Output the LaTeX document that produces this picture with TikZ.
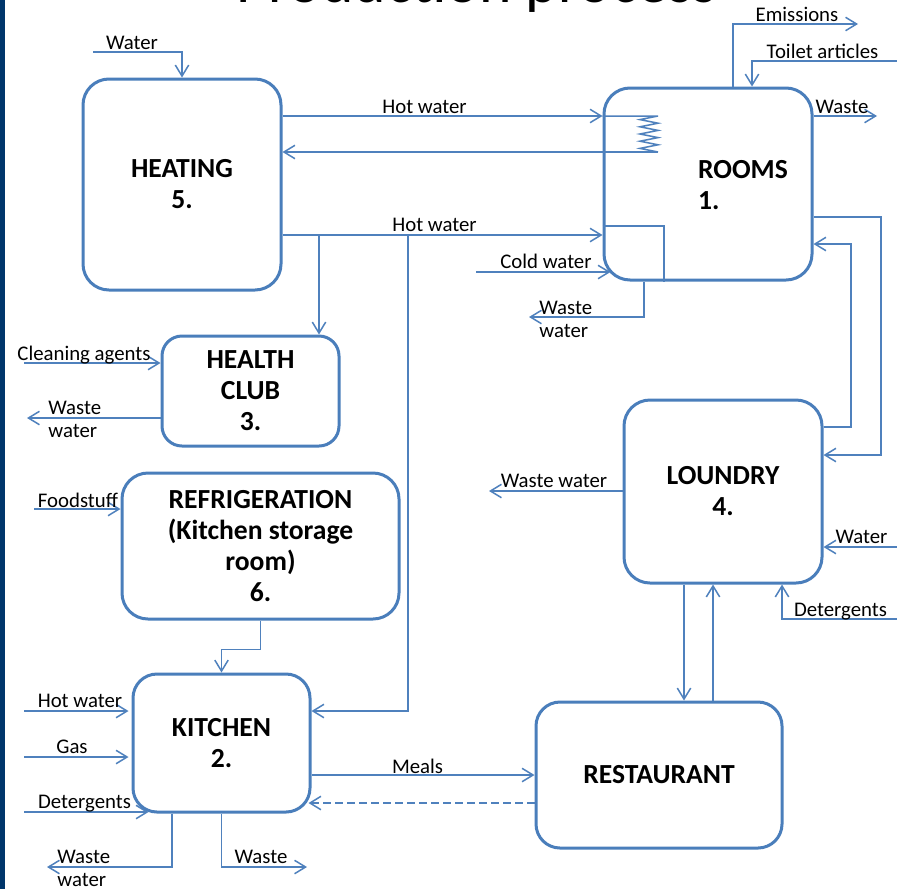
\documentclass[tikz,border=0pt]{standalone}
\usepackage{fontspec}
\setmainfont{Carlito}
\usetikzlibrary{arrows.meta}
\definecolor{boxblue}{RGB}{74,126,187}
\definecolor{lineblue}{RGB}{79,129,189}
\definecolor{slidenavy}{RGB}{0,54,107}
\newcommand\lblfont{\fontsize{10.4}{11.3}\selectfont}
\newcommand\boxfont{\fontsize{13.8}{15.5}\selectfont\bfseries}

\begin{document}
\begin{tikzpicture}[x=0.5pt, y=-0.5pt, >={Straight Barb[length=5.5pt,width=6.7pt]},
    procbox/.style={draw=boxblue, line width=1.5pt, rounded corners=13pt, align=center, font=\boxfont, inner sep=0pt},
    flow/.style={draw=lineblue, line width=0.75pt},
    lbl/.style={font=\lblfont, inner sep=0pt, anchor=base},
    lbltwo/.style={font=\lblfont, inner sep=0pt, align=left, anchor=base west}]
    \useasboundingbox (0,0) rectangle (897,889);
    \clip (0,0) rectangle (897,889);
    \fill[white] (0,0) rectangle (897,889);
    \fill[slidenavy] (0,0) rectangle (5,889);
    \node[font=\fontsize{30.9}{36}\selectfont, anchor=base, inner sep=0pt] (title) at (476.5,2) {Production process};

    % the six units
    \node[procbox, minimum width=99pt, minimum height=105.5pt] (heat) at (182,184.5) {HEATING\\5.};
    \node[procbox, minimum width=104pt, minimum height=96pt] (rooms) at (708,184) {};
    \node[font=\boxfont, align=left, inner sep=0pt] (roomsT) at (743,185) {ROOMS\\1.};
    \node[procbox, rounded corners=10pt, minimum width=88.5pt, minimum height=55pt] (health) at (250.5,391) {HEALTH\\CLUB\\3.};
    \node[procbox, minimum width=138.5pt, minimum height=73pt] (fridge) at (260.5,546) {REFRIGERATION\\(Kitchen storage\\room)\\6.};
    \node[procbox, minimum width=99pt, minimum height=91.5pt] (laundry) at (723,491.5) {LOUNDRY\\4.};
    \node[procbox, rounded corners=12pt, minimum width=88.5pt, minimum height=69pt] (kitchen) at (221.5,743) {KITCHEN\\2.};
    \node[procbox, rounded corners=12pt, minimum width=123pt, minimum height=73pt] (rest) at (659,775) {RESTAURANT};

    % heating
    \coordinate (wIn) at (93,52);
    \draw[flow,->] (wIn) -| (heat.north);
    \node[lbl] (lWater) at (132,49) {Water};
    \coordinate (hw1) at (0,116);
    \coordinate (hw2) at (658,152);
    \coordinate (hw3) at (0,235);
    \draw[flow,->] (heat.east |- hw1) -- (rooms.west |- hw1);
    \node[lbl] (lHotA) at (424.5,113) {Hot water};
    \draw[flow] (rooms.west |- hw1) -- (658,116) \foreach \k in {1,...,5}{ -- (640,{116+7.2*\k-3.6}) -- (658,{116+7.2*\k}) };
    \draw[flow,->] (hw2) -- (hw2 -| heat.east);
    \draw[flow,->] (heat.east |- hw3) -- (rooms.west |- hw3);
    \node[lbl] (lHotB) at (434.5,231) {Hot water};
    \coordinate (pipeA) at (664,226);
    \draw[flow] (rooms.west |- pipeA) -- (pipeA) -- (pipeA |- rooms.south);
    \coordinate (brH) at (319,235);
    \coordinate (brK) at (408,235);
    \coordinate (kHotR) at (0,711);
    \draw[flow,->] (brH) -- (brH |- health.north);
    \draw[flow,->] (brK) |- (kitchen.east |- kHotR);

    % rooms
    \coordinate (cw) at (476,272);
    \draw[flow,->] (cw) -- ([xshift=4pt]cw -| rooms.west);
    \node[lbl] (lCold) at (546,268) {Cold water};
    \coordinate (rwwx) at (644,0);
    \coordinate (rww) at (529,317);
    \draw[flow,->] (rwwx |- rooms.south) |- (rww);
    \node[lbltwo] (lRww) at (539,337) {Waste\\water};
    \coordinate (emx) at (733,0);
    \coordinate (em) at (858,24);
    \draw[flow,->] (emx |- rooms.north) |- (em);
    \node[lbl] (lEm) at (797,21) {Emissions};
    \coordinate (tax) at (752,0);
    \coordinate (ta) at (900,61);
    \draw[flow,->] (ta) -| (tax |- rooms.north);
    \node[lbl] (lTa) at (822.5,58) {Toilet articles};
    \coordinate (rw) at (877,116);
    \draw[flow,->] (rw -| rooms.east) -- (rw);
    \node[lbl] (lRw) at (842,113) {Waste};

    % rooms and loundry
    \coordinate (rlA) at (881,217);
    \coordinate (rlB) at (881,455);
    \draw[flow,->] (rlA -| rooms.east) -- (rlA) -- (rlB) -- (rlB -| laundry.east);
    \coordinate (lrA) at (851,427);
    \coordinate (lrB) at (851,244);
    \draw[flow,->] (lrA -| laundry.east) -- (lrA) -- (lrB) -- (lrB -| rooms.east);
    \coordinate (lww) at (489,491);
    \draw[flow,->] (lww -| laundry.west) -- (lww);
    \node[lbl] (lLww) at (554,487) {Waste water};
    \coordinate (lw) at (900,547);
    \draw[flow,->] (lw) -- (lw -| laundry.east);
    \node[lbl] (lLw) at (861.5,543) {Water};
    \coordinate (ldx) at (782,0);
    \coordinate (ld) at (900,619);
    \draw[flow,->] (ld) -| (ldx |- laundry.south);
    \node[lbl] (lLd) at (840.5,616) {Detergents};
    \coordinate (dnx) at (684,0);
    \coordinate (upx) at (713,0);
    \draw[flow,->] (dnx |- laundry.south) -- (dnx |- rest.north);
    \draw[flow,->] (upx |- rest.north) -- (upx |- laundry.south);

    % health club
    \coordinate (hca) at (24,363);
    \draw[flow,->] (hca) -- (hca -| health.west);
    \node[lbl] (lHca) at (84,360) {Cleaning agents};
    \coordinate (hww) at (27,418);
    \draw[flow,->] (hww -| health.west) -- (hww);
    \node[lbltwo] (lHww) at (48,437) {Waste\\water};

    % refrigeration
    \coordinate (fs) at (34,509);
    \draw[flow,->] (fs) -- (fs -| fridge.west);
    \node[lbl] (lFs) at (78,507) {Foodstuff};
    \draw[flow,->] (fridge.south) -- ++(0,29) -| (kitchen.north);

    % kitchen
    \coordinate (kHot) at (24,711);
    \coordinate (kGas) at (24,757);
    \coordinate (kDet) at (24,812);
    \draw[flow,->] (kHot) -- ([xshift=-1.5pt]kHot -| kitchen.west);
    \draw[flow,->] (kGas) -- ([xshift=-1.5pt]kGas -| kitchen.west);
    \draw[flow,->] (kDet) -- ([xshift=8.5pt]kDet -| kitchen.west);
    \node[lbl] (lKHot) at (80,707) {Hot water};
    \node[lbl] (lKGas) at (72,753) {Gas};
    \node[lbl] (lKDet) at (84.5,808) {Detergents};
    \coordinate (kwwx) at (172,0);
    \coordinate (kww) at (47,867);
    \coordinate (kw) at (307,867);
    \draw[flow,->] (kwwx |- kitchen.south) |- (kww);
    \draw[flow,->] (kitchen.south) |- (kw);
    \node[lbltwo] (lKww) at (57,886) {Waste\\water};
    \node[lbl] (lKw) at (261,863) {Waste};

    % kitchen and restaurant
    \draw[flow,->] (kitchen.east |- rest.west) -- (rest.west);
    \node[lbl] (lMeals) at (417.5,773) {Meals};
    \coordinate (rd) at (0,803);
    \draw[flow,->,dash pattern=on 4pt off 2pt] (rd -| rest.west) -- ([xshift=-1.5pt]rd -| kitchen.east);
\end{tikzpicture}
\end{document}
